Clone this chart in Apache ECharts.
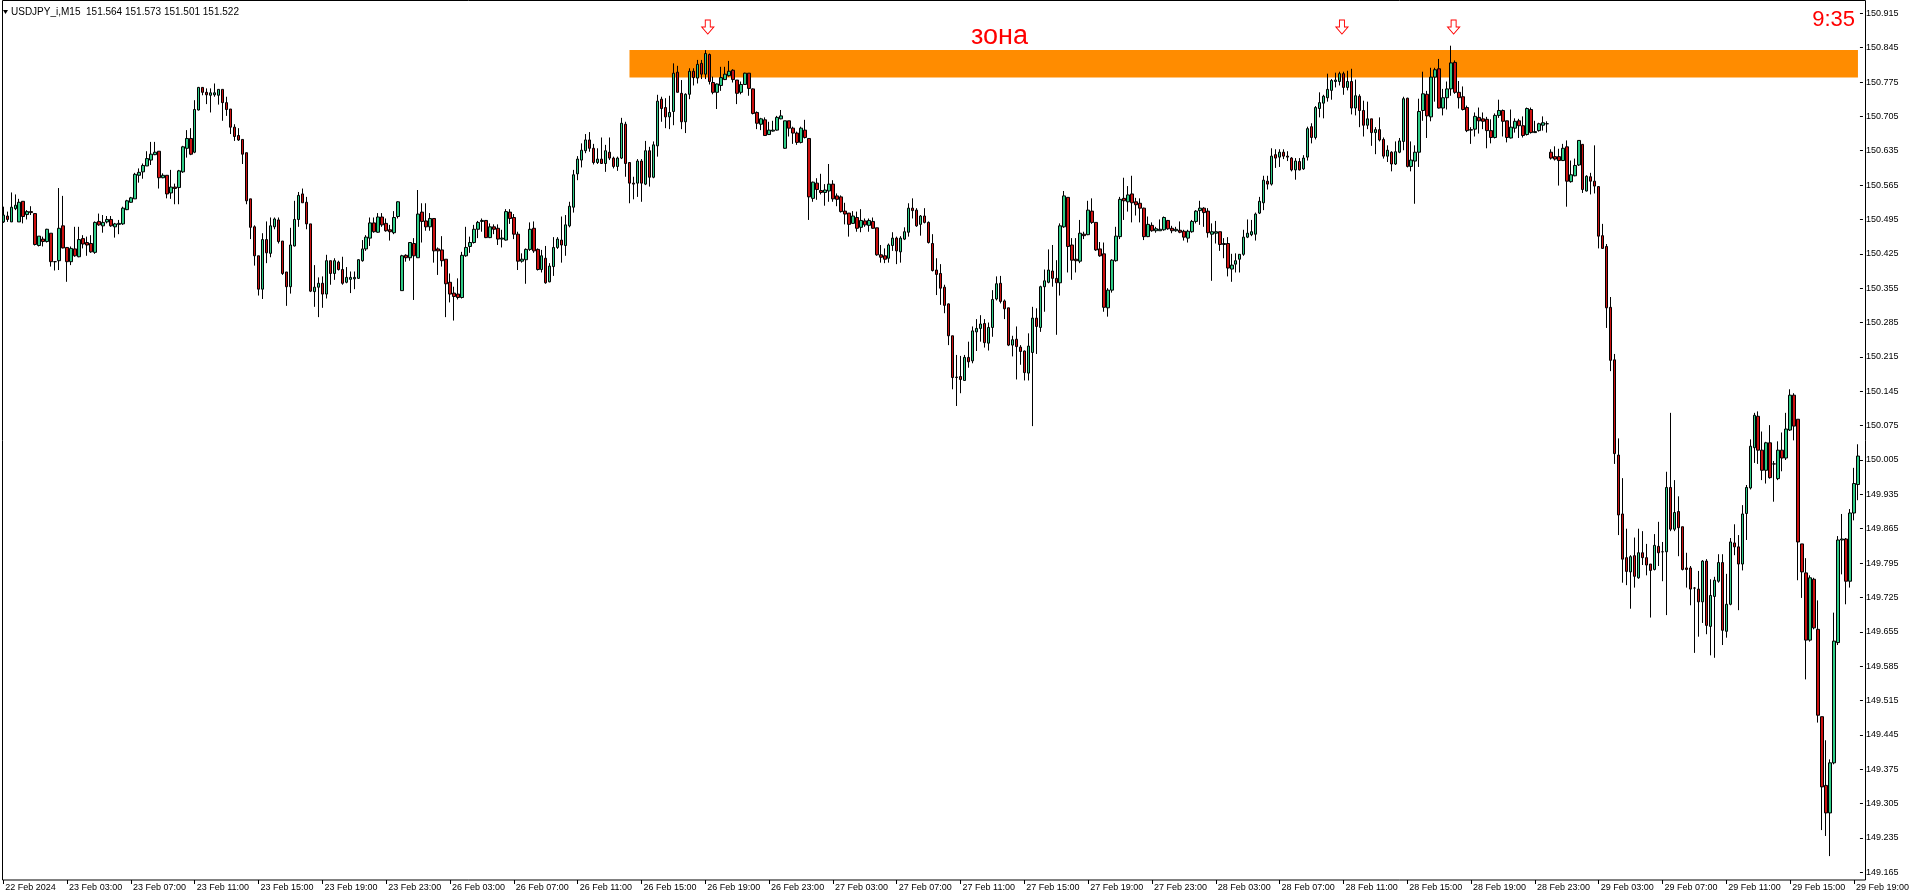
<!DOCTYPE html>
<html><head><meta charset="utf-8">
<script src="https://cdn.jsdelivr.net/npm/echarts@6/dist/echarts.min.js"></script>
<style>html,body{margin:0;padding:0;background:#fff}#c{width:1912px;height:896px}</style>
</head><body><div id="c"></div>
<script>
// ---- data (USDJPY_i, M15) ----
const opens = [
150.490,150.502,150.490,150.517,150.490,150.532,150.505,150.511,150.507,150.442,
150.455,150.450,150.467,150.409,150.411,150.482,150.438,150.409,150.435,150.419,
150.456,150.448,150.446,150.428,150.491,150.482,150.490,150.495,150.480,150.485,
150.486,150.515,150.530,150.537,150.585,150.592,150.604,150.616,150.627,150.634,
150.580,150.585,150.549,150.561,150.560,150.592,150.640,150.660,150.632,150.718,
150.764,150.754,150.748,150.749,150.748,150.760,150.733,150.720,150.683,150.666,
150.658,150.631,150.537,150.480,150.421,150.353,150.454,150.426,150.480,150.494,
150.451,150.388,150.358,150.441,150.495,150.547,150.530,150.486,150.348,150.357,
150.365,150.343,150.411,150.385,150.408,150.393,150.367,150.373,150.374,150.375,
150.411,150.435,150.457,150.488,150.469,150.500,150.487,150.474,150.468,150.501,
150.350,150.422,150.417,150.446,150.417,150.510,150.492,150.480,150.497,150.435,
150.433,150.414,150.367,150.345,150.343,150.336,150.421,150.440,150.448,150.475,
150.491,150.493,150.458,150.480,150.477,150.455,150.453,150.510,150.499,150.465,
150.410,150.413,150.434,150.477,150.434,150.393,150.416,150.368,150.399,150.438,
150.453,150.442,150.482,150.520,150.588,150.616,150.635,150.657,150.640,150.611,
150.618,150.609,150.632,150.620,150.603,150.620,150.689,150.611,150.569,150.569,
150.614,150.567,150.635,150.581,150.645,150.740,150.723,150.704,150.715,150.795,
150.752,150.694,150.750,150.797,150.783,150.813,150.791,150.831,150.774,150.754,
150.768,150.780,150.788,150.799,150.779,150.754,150.770,150.793,150.761,150.713,
150.689,150.698,150.668,150.675,150.677,150.700,150.640,150.696,150.681,150.671,
150.652,150.677,150.660,150.538,150.569,150.554,150.550,150.553,150.567,150.543,
150.541,150.512,150.508,150.487,150.499,150.479,150.492,150.483,150.491,150.478,
150.423,150.421,150.416,150.442,150.457,150.429,150.455,150.469,150.518,150.514,
150.485,150.502,150.489,150.446,150.392,150.385,150.357,150.323,150.258,150.173,
150.175,150.167,150.214,150.207,150.266,150.273,150.283,150.243,150.275,150.333,
150.365,150.329,150.315,150.239,150.251,150.235,150.227,150.182,150.224,150.294,
150.275,150.358,150.367,150.390,150.375,150.366,150.480,150.540,150.443,150.414,
150.410,150.465,150.464,150.512,150.489,150.435,150.425,150.315,150.351,150.411,
150.460,150.538,150.531,150.547,150.531,150.528,150.518,150.460,150.483,150.472,
150.472,150.474,150.493,150.477,150.472,150.473,150.471,150.457,150.470,150.491,
150.513,150.518,150.512,150.465,150.467,150.470,150.444,150.446,150.394,150.404,
150.414,150.424,150.459,150.464,150.465,150.508,150.529,150.573,150.567,150.627,
150.622,150.632,150.624,150.620,150.596,150.613,150.598,150.622,150.684,150.662,
150.721,150.732,150.743,150.758,150.776,150.776,150.792,150.764,150.776,150.722,
150.746,150.717,150.687,150.700,150.672,150.678,150.658,150.624,150.632,150.608,
150.632,150.654,150.742,150.603,150.614,150.632,150.717,150.750,150.704,150.785,
150.802,150.722,150.743,150.761,150.815,150.754,150.745,150.723,150.678,150.679,
150.703,150.700,150.699,150.676,150.662,150.707,150.717,150.696,150.661,150.681,
150.696,150.686,150.668,150.719,150.672,150.676,150.687,150.690,150.632,150.623,
150.623,150.615,150.643,150.572,150.584,150.606,150.648,150.553,150.582,150.573,
150.562,150.462,150.440,150.316,150.209,150.015,149.895,149.806,149.777,149.810,
149.765,149.816,149.806,149.793,149.782,149.829,149.818,149.818,149.949,149.864,
149.900,149.869,149.785,149.785,149.744,149.742,149.716,149.799,149.666,149.727,
149.758,149.796,149.656,149.711,149.836,149.828,149.793,149.896,149.948,150.030,
150.094,150.025,149.984,150.040,149.997,149.967,150.025,150.009,150.066,150.137,
150.088,149.834,149.775,149.638,149.762,149.660,149.482,149.342,149.286,149.388,
149.633,149.842,149.844,149.758,149.897,149.955];
const closes = [
150.504,150.495,150.520,150.524,150.530,150.501,150.511,150.509,150.444,150.461,
150.450,150.475,150.409,150.409,150.477,150.437,150.409,150.436,150.421,150.454,
150.445,150.443,150.429,150.489,150.484,150.489,150.495,150.482,150.486,150.487,
150.518,150.533,150.539,150.587,150.591,150.605,150.619,150.628,150.632,150.580,
150.585,150.547,150.561,150.558,150.594,150.643,150.660,150.628,150.719,150.764,
150.754,150.749,150.753,150.753,150.760,150.733,150.719,150.683,150.664,150.657,
150.628,150.533,150.479,150.421,150.353,150.454,150.427,150.482,150.496,150.450,
150.385,150.358,150.443,150.495,150.544,150.529,150.486,150.349,150.357,150.365,
150.343,150.411,150.385,150.411,150.393,150.365,150.377,150.377,150.377,150.413,
150.435,150.459,150.488,150.470,150.500,150.484,150.472,150.470,150.499,150.531,
150.421,150.417,150.448,150.421,150.506,150.491,150.480,150.497,150.431,150.431,
150.411,150.364,150.343,150.338,150.336,150.422,150.438,150.448,150.475,150.489,
150.493,150.458,150.480,150.475,150.455,150.457,150.511,150.497,150.465,150.410,
150.414,150.434,150.475,150.431,150.393,150.421,150.366,150.400,150.438,150.455,
150.443,150.484,150.522,150.586,150.618,150.636,150.657,150.640,150.611,150.618,
150.609,150.635,150.620,150.603,150.620,150.691,150.609,150.569,150.567,150.614,
150.569,150.635,150.581,150.647,150.736,150.721,150.704,150.713,150.793,150.754,
150.694,150.750,150.797,150.784,150.811,150.791,150.833,150.776,150.754,150.771,
150.784,150.791,150.797,150.780,150.752,150.770,150.793,150.762,150.711,150.691,
150.700,150.666,150.677,150.677,150.703,150.706,150.696,150.681,150.671,150.652,
150.681,150.662,150.541,150.571,150.556,150.550,150.555,150.567,150.537,150.536,
150.511,150.506,150.485,150.502,150.477,150.493,150.484,150.493,150.477,150.423,
150.418,150.414,150.443,150.457,150.431,150.457,150.470,150.518,150.513,150.482,
150.502,150.489,150.448,150.391,150.383,150.355,150.320,150.258,150.173,150.174,
150.169,150.214,150.205,150.268,150.273,150.282,150.244,150.275,150.332,150.364,
150.328,150.313,150.239,150.250,150.236,150.226,150.183,150.237,150.294,150.277,
150.358,150.370,150.392,150.375,150.366,150.482,150.543,150.440,150.412,150.411,
150.467,150.462,150.514,150.489,150.433,150.421,150.316,150.351,150.412,150.461,
150.536,150.533,150.545,150.529,150.525,150.518,150.460,150.485,150.472,150.476,
150.475,150.499,150.476,150.472,150.475,150.469,150.459,150.471,150.491,150.512,
150.518,150.509,150.468,150.470,150.470,150.444,150.446,150.396,150.402,150.411,
150.424,150.459,150.467,150.470,150.506,150.532,150.575,150.567,150.624,150.620,
150.632,150.624,150.622,150.596,150.614,150.596,150.620,150.680,150.662,150.723,
150.733,150.746,150.760,150.778,150.779,150.792,150.764,150.776,150.722,150.747,
150.717,150.687,150.700,150.672,150.678,150.657,150.624,150.636,150.608,150.633,
150.655,150.741,150.603,150.616,150.632,150.715,150.751,150.706,150.785,150.800,
150.722,150.743,150.761,150.814,150.754,150.743,150.719,150.676,150.677,150.705,
150.696,150.695,150.676,150.662,150.707,150.717,150.695,150.662,150.683,150.695,
150.686,150.666,150.721,150.672,150.674,150.690,150.692,150.690,150.620,150.618,
150.615,150.640,150.573,150.586,150.605,150.656,150.556,150.583,150.573,150.563,
150.461,150.436,150.315,150.208,150.018,149.893,149.803,149.778,149.808,149.768,
149.816,149.806,149.791,149.780,149.831,149.816,149.818,149.949,149.864,149.898,
149.867,149.782,149.782,149.742,149.744,149.716,149.799,149.668,149.729,149.760,
149.796,149.658,149.711,149.838,149.828,149.793,149.895,149.949,150.033,150.096,
150.025,149.984,150.040,149.969,149.997,150.025,150.009,150.068,150.137,150.074,
149.838,149.777,149.638,149.765,149.663,149.485,149.339,149.286,149.388,149.636,
149.842,149.844,149.758,149.897,149.957,150.013];
const highs = [
150.521,150.511,150.550,150.546,150.537,150.532,150.514,150.522,150.507,150.461,
150.460,150.476,150.467,150.410,150.559,150.543,150.438,150.440,150.480,150.480,
150.463,150.460,150.463,150.491,150.507,150.504,150.502,150.502,150.488,150.494,
150.521,150.535,150.541,150.590,150.599,150.609,150.634,150.653,150.653,150.634,
150.589,150.585,150.596,150.568,150.596,150.645,150.677,150.681,150.738,150.765,
150.764,150.762,150.762,150.772,150.760,150.760,150.745,150.720,150.689,150.681,
150.658,150.631,150.537,150.483,150.421,150.467,150.491,150.499,150.499,150.499,
150.451,150.388,150.478,150.533,150.551,150.558,150.541,150.486,150.402,150.377,
150.379,150.423,150.411,150.416,150.411,150.419,150.398,150.389,150.389,150.414,
150.453,150.463,150.499,150.499,150.508,150.508,150.497,150.484,150.512,150.532,
150.423,150.424,150.449,150.457,150.555,150.528,150.528,150.508,150.497,150.438,
150.461,150.414,150.385,150.358,150.375,150.429,150.480,150.460,150.484,150.492,
150.497,150.493,150.487,150.485,150.485,150.474,150.516,150.516,150.506,150.470,
150.426,150.436,150.489,150.491,150.436,150.433,150.441,150.406,150.459,150.459,
150.501,150.504,150.531,150.596,150.624,150.650,150.669,150.673,150.649,150.640,
150.662,150.647,150.662,150.623,150.623,150.702,150.694,150.611,150.582,150.618,
150.618,150.655,150.643,150.654,150.749,150.745,150.742,150.747,150.813,150.808,
150.779,150.752,150.803,150.803,150.820,150.820,150.840,150.833,150.786,150.772,
150.806,150.806,150.818,150.801,150.779,150.776,150.794,150.793,150.762,150.715,
150.702,150.703,150.694,150.696,150.706,150.718,150.696,150.696,150.684,150.674,
150.684,150.698,150.660,150.572,150.579,150.588,150.567,150.608,150.575,150.548,
150.544,150.529,150.508,150.512,150.511,150.516,150.497,150.497,150.499,150.478,
150.443,150.436,150.446,150.469,150.460,150.461,150.479,150.528,150.538,150.518,
150.504,150.518,150.491,150.465,150.416,150.404,150.362,150.324,150.258,150.219,
150.217,150.219,150.246,150.277,150.292,150.300,150.292,150.285,150.351,150.379,
150.380,150.332,150.315,150.258,150.277,150.239,150.228,150.263,150.317,150.314,
150.360,150.393,150.434,150.443,150.412,150.487,150.553,150.540,150.457,150.457,
150.494,150.470,150.533,150.538,150.489,150.449,150.448,150.355,150.414,150.480,
150.541,150.580,150.563,150.584,150.539,150.538,150.519,150.501,150.489,150.480,
150.495,150.501,150.494,150.482,150.480,150.491,150.474,150.474,150.494,150.514,
150.533,150.520,150.518,150.487,150.492,150.470,150.457,150.459,150.425,150.426,
150.424,150.474,150.495,150.494,150.509,150.541,150.584,150.584,150.640,150.638,
150.638,150.638,150.634,150.622,150.620,150.620,150.626,150.684,150.691,150.726,
150.754,150.749,150.792,150.781,150.794,150.796,150.796,150.798,150.802,150.780,
150.750,150.737,150.735,150.700,150.683,150.703,150.662,150.646,150.634,150.654,
150.661,150.745,150.743,150.654,150.646,150.741,150.796,150.757,150.804,150.804,
150.822,150.761,150.776,150.849,150.819,150.777,150.766,150.727,150.683,150.713,
150.723,150.713,150.704,150.699,150.711,150.739,150.719,150.696,150.719,150.701,
150.700,150.705,150.723,150.723,150.696,150.692,150.705,150.695,150.638,150.644,
150.639,150.649,150.656,150.615,150.619,150.656,150.648,150.585,150.590,150.646,
150.562,150.486,150.445,150.337,150.221,150.049,149.968,149.865,149.811,149.847,
149.865,149.860,149.834,149.793,149.854,149.879,149.838,149.981,150.101,149.964,
149.931,149.869,149.816,149.789,149.746,149.779,149.801,149.803,149.762,149.767,
149.813,149.813,149.773,149.846,149.874,149.852,149.913,149.954,150.047,150.101,
150.104,150.063,150.042,150.076,150.003,150.043,150.061,150.101,150.149,150.141,
150.088,149.834,149.805,149.770,149.765,149.719,149.482,149.434,149.395,149.694,
149.850,149.895,149.846,149.905,149.989,150.037];
const lows = [
150.488,150.490,150.490,150.514,150.490,150.487,150.495,150.504,150.442,150.440,
150.440,150.448,150.399,150.391,150.392,150.436,150.368,150.402,150.419,150.418,
150.436,150.421,150.427,150.425,150.482,150.468,150.487,150.480,150.458,150.465,
150.484,150.514,150.529,150.537,150.570,150.578,150.604,150.606,150.626,150.558,
150.579,150.538,150.537,150.526,150.526,150.590,150.621,150.626,150.630,150.717,
150.748,150.730,150.713,150.745,150.729,150.696,150.706,150.669,150.655,150.655,
150.608,150.526,150.455,150.401,150.340,150.333,150.406,150.418,150.475,150.446,
150.382,150.319,150.344,150.440,150.480,150.529,150.475,150.347,150.317,150.296,
150.315,150.334,150.362,150.372,150.391,150.362,150.365,150.345,150.353,150.374,
150.409,150.431,150.441,150.468,150.468,150.480,150.470,150.452,150.465,150.497,
150.350,150.409,150.411,150.331,150.417,150.448,150.472,150.472,150.407,150.382,
150.399,150.296,150.326,150.289,150.332,150.334,150.419,150.427,150.446,150.457,
150.470,150.457,150.457,150.465,150.443,150.438,150.452,150.486,150.455,150.392,
150.407,150.364,150.431,150.427,150.391,150.387,150.364,150.367,150.380,150.435,
150.407,150.421,150.479,150.509,150.575,150.601,150.630,150.633,150.607,150.608,
150.608,150.592,150.616,150.599,150.594,150.618,150.582,150.528,150.536,150.541,
150.531,150.565,150.562,150.579,150.623,150.694,150.681,150.679,150.687,150.754,
150.679,150.671,150.740,150.768,150.772,150.781,150.781,150.770,150.750,150.720,
150.757,150.779,150.786,150.774,150.730,150.750,150.770,150.747,150.709,150.679,
150.677,150.666,150.667,150.674,150.676,150.699,150.639,150.664,150.649,150.647,
150.650,150.660,150.494,150.531,150.535,150.546,150.523,150.531,150.531,150.522,
150.509,150.485,150.460,150.486,150.470,150.469,150.480,150.470,150.476,150.421,
150.407,150.406,150.407,150.431,150.404,150.407,150.453,150.460,150.497,150.480,
150.462,150.487,150.446,150.389,150.341,150.321,150.304,150.239,150.149,150.115,
150.141,150.167,150.193,150.202,150.227,150.246,150.234,150.228,150.256,150.330,
150.324,150.292,150.237,150.216,150.169,150.199,150.167,150.167,150.074,150.221,
150.266,150.307,150.365,150.358,150.260,150.340,150.478,150.387,150.372,150.387,
150.406,150.455,150.463,150.486,150.431,150.419,150.307,150.297,150.346,150.409,
150.455,150.494,150.511,150.489,150.503,150.489,150.453,150.459,150.470,150.468,
150.472,150.472,150.474,150.467,150.470,150.467,150.452,150.448,150.468,150.487,
150.484,150.480,150.458,150.370,150.446,150.431,150.416,150.379,150.368,150.387,
150.387,150.421,150.457,150.461,150.452,150.506,150.514,150.556,150.564,150.600,
150.602,150.618,150.614,150.593,150.576,150.595,150.596,150.615,150.650,150.658,
150.703,150.701,150.735,150.739,150.764,150.768,150.749,150.758,150.709,150.707,
150.683,150.664,150.679,150.645,150.628,150.654,150.619,150.612,150.593,150.606,
150.630,150.636,150.601,150.593,150.527,150.602,150.696,150.661,150.695,150.735,
150.721,150.707,150.719,150.747,150.751,150.721,150.717,150.673,150.649,150.664,
150.670,150.679,150.640,150.650,150.660,150.702,150.664,150.652,150.660,150.672,
150.661,150.662,150.666,150.670,150.672,150.674,150.676,150.672,150.617,150.615,
150.564,150.614,150.521,150.570,150.583,150.604,150.549,150.552,150.546,150.548,
150.436,150.435,150.274,150.186,149.997,149.852,149.755,149.750,149.702,149.745,
149.763,149.791,149.770,149.684,149.780,149.789,149.758,149.689,149.860,149.860,
149.809,149.780,149.745,149.709,149.612,149.645,149.673,149.650,149.607,149.602,
149.755,149.628,149.643,149.709,149.811,149.699,149.780,149.842,149.945,149.999,
149.997,149.964,149.957,149.967,149.920,149.964,149.982,150.005,150.064,150.045,
149.760,149.724,149.558,149.635,149.660,149.470,149.251,149.239,149.198,149.385,
149.628,149.772,149.711,149.745,149.882,149.923];

// time axis: first bar 22 Feb 2024 23:00, 15-minute bars, weekend skipped
const startLabel = '22 Feb 2024';
const MONTHS = ['Jan','Feb','Mar','Apr','May','Jun','Jul','Aug','Sep','Oct','Nov','Dec'];
// y-axis tick labels
const yMin = 149.165, yMax = 150.915, yStep = 0.070;
// drawn objects
const zoneFromBar = 157, zoneToBar = 465;
const zoneLow = 150.784, zoneHigh = 150.840;
const arrowBars = [176, 335, 363];
const arrowPrice = 150.887;
const headerText = 'USDJPY_i,M15  151.564 151.573 151.501 151.522';
const clockText = '9:35';
const zoneText = 'зона';

const pad = n => (n < 10 ? '0' : '') + n;
const categories = [];
const t0 = Date.UTC(2024, 1, 22, 23, 0);
const weekendStart = Date.UTC(2024, 1, 24, 0, 0);
for (let i = 0; i < opens.length; i++) {
  let t = t0 + i * 900000;
  if (t >= weekendStart) t += 2 * 86400000;
  const d = new Date(t);
  categories.push(d.getUTCDate() + ' ' + MONTHS[d.getUTCMonth()] + ' ' + pad(d.getUTCHours()) + ':' + pad(d.getUTCMinutes()));
}
const ohlc = opens.map((o, i) => {
  const c = closes[i];
  return [o, c, Math.min(lows[i], o, c), Math.max(highs[i], o, c)];
});

const FONT = 'Liberation Sans, Arial, sans-serif';
const chart = echarts.init(document.getElementById('c'), null, { renderer: 'canvas' });
chart.setOption({
  animation: false,
  backgroundColor: '#ffffff',
  grid: { left: 1.3, top: 13.3, width: 1864, height: 859, containLabel: false },
  xAxis: {
    type: 'category', data: categories, boundaryGap: true, offset: 7.7,
    axisLine: { show: false },
    axisTick: { show: true, alignWithLabel: true, interval: 15, length: 4, lineStyle: { color: '#000' } },
    axisLabel: {
      interval: 15, align: 'left', color: '#000', fontSize: 9, fontFamily: FONT, margin: 3,
      padding: [0, 0, 0, 2],
      formatter: (v, i) => (i === 0 ? startLabel : v)
    },
    splitLine: { show: false }
  },
  yAxis: {
    type: 'value', position: 'right', min: yMin, max: yMax, interval: yStep,
    axisLine: { show: false },
    axisTick: { show: true, length: 3, lineStyle: { color: '#000' } },
    axisLabel: { color: '#000', fontSize: 9, fontFamily: FONT, margin: 6, formatter: v => v.toFixed(3) },
    splitLine: { show: false }
  },
  series: [
    {
      type: 'candlestick', data: ohlc, barWidth: 3,
      itemStyle: { color: '#2ECC87', color0: '#CC1010', borderColor: '#000', borderColor0: '#000', borderWidth: 1 },
      markArea: {
        silent: true, z: 1,
        itemStyle: { color: '#FF8C00', opacity: 1 },
        data: [[{ xAxis: zoneFromBar, yAxis: zoneLow }, { xAxis: zoneToBar, yAxis: zoneHigh }]]
      },
      z: 3
    },
    {
      type: 'scatter', z: 4,
      data: arrowBars.map(b => [b, arrowPrice]),
      symbol: 'path://M3.5,0 L8.5,0 L8.5,7 L12,7 L6,14 L0,7 L3.5,7 Z',
      symbolSize: [12, 14], symbolOffset: [2.5, 0],
      itemStyle: { color: '#ffffff', borderColor: '#FF0000', borderWidth: 1, opacity: 1 },
      silent: true
    }
  ],
  graphic: [
    { type: 'rect', z: 10, silent: true, shape: { x: 2.5, y: 0.5, width: 1863, height: 879.5 },
      style: { fill: null, stroke: '#000', lineWidth: 1 } },
    { type: 'polygon', z: 10, silent: true, shape: { points: [[3, 10], [8, 10], [5.5, 14]] }, style: { fill: '#000' } },
    { type: 'text', z: 10, silent: true, x: 11, y: 12,
      style: { text: headerText, fill: '#000', font: '10px ' + FONT, textVerticalAlign: 'middle' } },
    { type: 'text', z: 10, silent: true, x: 1855, y: 20,
      style: { text: clockText, fill: '#FF0000', font: '22px ' + FONT, textAlign: 'right', textVerticalAlign: 'middle' } },
    { type: 'text', z: 10, silent: true, x: 971, y: 37,
      style: { text: zoneText, fill: '#FF0000', font: '27px ' + FONT, textAlign: 'left', textVerticalAlign: 'middle' } }
  ]
});
</script></body></html>
